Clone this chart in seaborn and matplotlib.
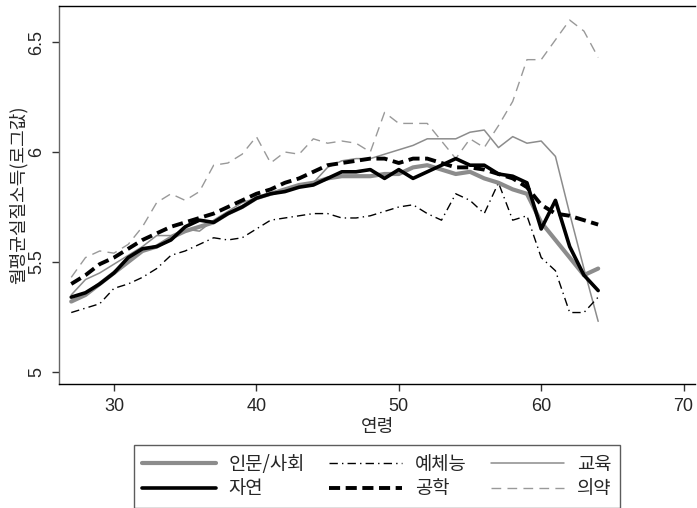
import numpy as np
import pandas as pd
import matplotlib
matplotlib.use("Agg")
import matplotlib.pyplot as plt
import seaborn as sns

ages = list(range(27, 65))

humanities = [5.32, 5.35, 5.40, 5.45, 5.50, 5.55, 5.57, 5.61, 5.64, 5.66,
              5.68, 5.72, 5.75, 5.79, 5.81, 5.83, 5.85, 5.86, 5.88, 5.89,
              5.89, 5.89, 5.90, 5.90, 5.93, 5.94, 5.92, 5.90, 5.91, 5.88,
              5.86, 5.83, 5.81, 5.68, 5.60, 5.52, 5.44, 5.47]
science = [5.34, 5.36, 5.40, 5.45, 5.52, 5.56, 5.57, 5.60, 5.66, 5.69,
           5.68, 5.72, 5.75, 5.79, 5.81, 5.82, 5.84, 5.85, 5.88, 5.91,
           5.91, 5.92, 5.88, 5.92, 5.88, 5.91, 5.94, 5.97, 5.94, 5.94,
           5.90, 5.89, 5.86, 5.65, 5.78, 5.57, 5.44, 5.37]
arts = [5.27, 5.29, 5.31, 5.38, 5.40, 5.43, 5.47, 5.53, 5.55, 5.58,
        5.61, 5.60, 5.61, 5.65, 5.69, 5.70, 5.71, 5.72, 5.72, 5.70,
        5.70, 5.71, 5.73, 5.75, 5.76, 5.72, 5.69, 5.81, 5.78, 5.72,
        5.86, 5.69, 5.71, 5.52, 5.46, 5.27, 5.27, 5.34]
engineering = [5.40, 5.44, 5.49, 5.52, 5.56, 5.60, 5.63, 5.66, 5.68, 5.70,
               5.72, 5.75, 5.78, 5.81, 5.83, 5.86, 5.88, 5.91, 5.94, 5.95,
               5.96, 5.97, 5.97, 5.95, 5.97, 5.97, 5.95, 5.93, 5.93, 5.92,
               5.90, 5.88, 5.84, 5.76, 5.72, 5.71, 5.69, 5.67]
education = [5.35, 5.42, 5.45, 5.49, 5.53, 5.57, 5.62, 5.62, 5.65, 5.64,
             5.69, 5.73, 5.77, 5.79, 5.81, 5.82, 5.84, 5.86, 5.93, 5.96,
             5.97, 5.97, 5.99, 6.01, 6.03, 6.06, 6.06, 6.06, 6.09, 6.10,
             6.02, 6.07, 6.04, 6.05, 5.98, 5.72, 5.47, 5.23]
medicine = [5.43, 5.52, 5.55, 5.54, 5.58, 5.66, 5.77, 5.81, 5.78, 5.82,
            5.94, 5.95, 5.99, 6.07, 5.95, 6.00, 5.99, 6.06, 6.04, 6.05,
            6.04, 6.00, 6.18, 6.13, 6.13, 6.13, 6.05, 5.97, 6.06, 6.02,
            6.12, 6.23, 6.42, 6.42, 6.51, 6.60, 6.55, 6.43]

labels = ["인문/사회", "자연", "예체능", "공학", "교육", "의약"]
series = [humanities, science, arts, engineering, education, medicine]
xticks = [30, 40, 50, 60, 70]
yticks = [5, 5.5, 6, 6.5]
ytick_labels = ["5", "5.5", "6", "6.5"]

sns.set_style("white")
plt.rcParams['font.family'] = ['Noto Sans CJK KR', 'DejaVu Sans']
plt.rcParams['lines.scale_dashes'] = False
plt.rcParams['axes.unicode_minus'] = False

styles = {
    "인문/사회": dict(color="#8c8c8c", lw=3.0, ls="-"),
    "자연": dict(color="black", lw=2.6, ls="-"),
    "예체능": dict(color="black", lw=1.0, ls=(0, (6, 3, 1, 3))),
    "공학": dict(color="black", lw=2.8, ls=(0, (8, 4))),
    "교육": dict(color="#8c8c8c", lw=1.1, ls="-"),
    "의약": dict(color="#999999", lw=1.0, ls=(0, (7, 4.5))),
}

df = pd.DataFrame({"age": ages * len(labels),
                   "value": sum(series, []),
                   "major": np.repeat(labels, len(ages))})

fig = plt.figure(figsize=(6.97, 5.08), dpi=100)
ax = fig.add_axes([59/697, 1 - 384/508, (695 - 59)/697, (384 - 6)/508])

draw_order = ["교육", "의약", "예체능", "인문/사회", "공학", "자연"]
handles = {}
for lab in draw_order:
    st = styles[lab]
    sub = df[df["major"] == lab]
    sns.lineplot(data=sub, x="age", y="value", ax=ax, color=st["color"],
                 linewidth=st["lw"], linestyle=st["ls"], label=lab,
                 legend=False, estimator=None)
    handles[lab] = ax.lines[-1]

ax.set_xlim(26.14, 70.8)
ax.set_ylim(4.945, 6.664)
ax.set_xticks(xticks)
ax.set_xticklabels([str(t) for t in xticks], family="Liberation Sans")
ax.set_yticks(yticks)
ax.set_yticklabels(ytick_labels, rotation=90, va="center", ha="right",
                   family="Liberation Sans")
ax.tick_params(axis="both", which="major", direction="out", length=5,
               width=1, labelsize=13, pad=5, color="#333333")
ax.tick_params(axis="y", left=True)
ax.tick_params(axis="x", bottom=True)

for side in ["top", "bottom"]:
    ax.spines[side].set_color("black")
    ax.spines[side].set_linewidth(1.0)
ax.spines["left"].set_color("#666666")
ax.spines["left"].set_linewidth(1.0)
ax.spines["right"].set_visible(False)

ax.set_xlabel("연령", fontsize=13, labelpad=2)
ax.set_ylabel("월평균실질소득(로그값)", fontsize=13, labelpad=0)

leg_order = ["인문/사회", "자연", "예체능", "공학", "교육", "의약"]
leg = fig.legend([handles[l] for l in leg_order], leg_order, ncol=3,
                 loc="center", bbox_to_anchor=(134/697, 2/508, (620 - 134)/697, (506 - 447)/508),
                 mode="expand", fontsize=13.5, handlelength=3.9, handletextpad=0.7,
                 frameon=True, fancybox=False, borderpad=0.45, labelspacing=0.2,
                 borderaxespad=0)
leg.get_frame().set_edgecolor("#333333")
leg.get_frame().set_linewidth(1.0)

fig.savefig("out.png", dpi=100)
